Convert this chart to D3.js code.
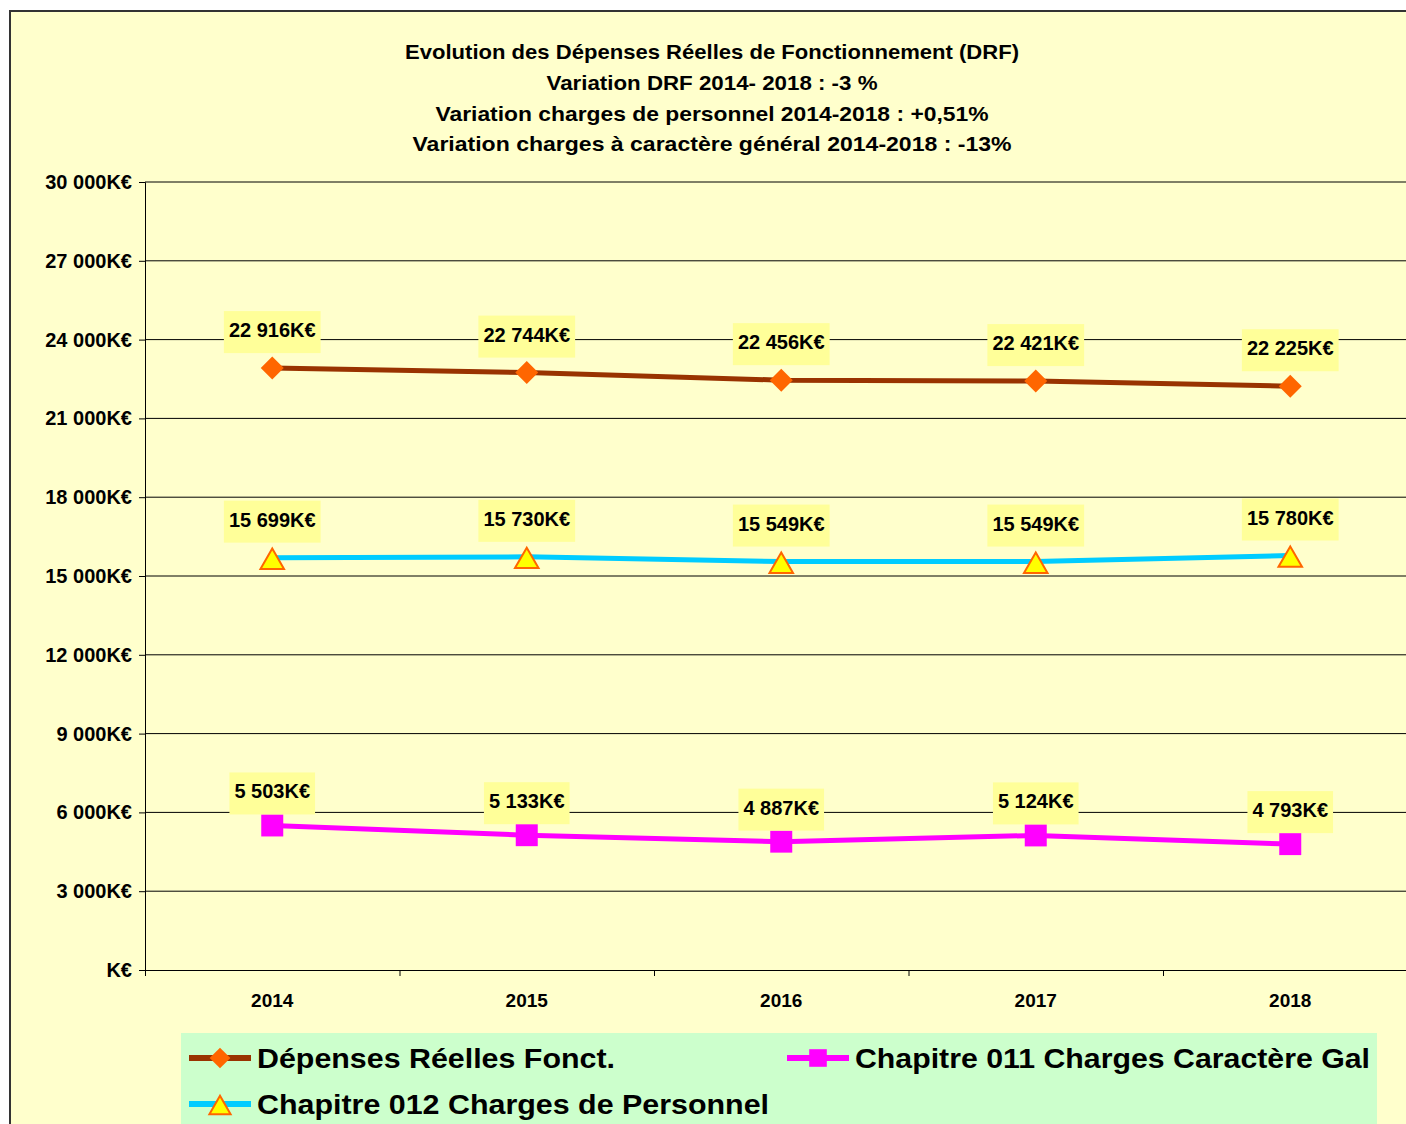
<!DOCTYPE html>
<html>
<head>
<meta charset="utf-8">
<script src="https://cdn.jsdelivr.net/npm/d3@7"></script>
<style>
  body { margin: 0; background: #fff; }
  text { font-family: "Liberation Sans", Arial, sans-serif; font-weight: bold; fill: #000; }
</style>
</head>
<body>
<svg id="chart" width="1406" height="1124"></svg>
<script>
// data
const years = ["2014", "2015", "2016", "2017", "2018"];
const drf = [22916, 22744, 22456, 22421, 22225];
const ch012 = [15699, 15730, 15549, 15549, 15780];
const ch011 = [5503, 5133, 4887, 5124, 4793];
const yTicks = [0, 3000, 6000, 9000, 12000, 15000, 18000, 21000, 24000, 27000, 30000];
const titleLines = [
  "Evolution des Dépenses Réelles de Fonctionnement (DRF)",
  "Variation DRF 2014- 2018 : -3 %",
  "Variation charges de personnel 2014-2018 : +0,51%",
  "Variation charges à caractère général 2014-2018 : -13%"
];
const titleWidths = [614, 331, 553, 599];

const svg = d3.select("#chart");
const loc = d3.formatLocale({ decimal: ",", thousands: " ", grouping: [3], currency: ["", ""] });
const num = loc.format(",d");
const kEur = d => (d === 0 ? "K€" : num(d) + "K€");

// outer frame
svg.append("rect")
  .attr("x", 10).attr("y", 11).attr("width", 1420).attr("height", 1130)
  .attr("fill", "#FFFFCC").attr("stroke", "#333").attr("stroke-width", 2);

// title
svg.selectAll("text.title").data(titleLines).enter().append("text")
  .attr("class", "title")
  .attr("x", 712).attr("y", (d, i) => 59 + i * 30.8)
  .attr("text-anchor", "middle")
  .attr("font-size", 21)
  .attr("textLength", (d, i) => titleWidths[i])
  .attr("lengthAdjust", "spacingAndGlyphs")
  .text(d => d);

// scales
const x = d3.scaleBand().domain(years).range([145, 1417.5]);
const cx = d => x(d) + x.bandwidth() / 2;
const y = d3.scaleLinear().domain([0, 30000]).range([970, 182]);

// gridlines
svg.append("g").selectAll("line").data(yTicks.slice(1)).enter().append("line")
  .attr("x1", 145).attr("x2", 1406)
  .attr("y1", d => y(d)).attr("y2", d => y(d))
  .attr("stroke", "#000").attr("stroke-width", 1);

// y axis
const yAxis = svg.append("g").attr("transform", "translate(145,0)")
  .call(d3.axisLeft(y).tickValues(yTicks).tickFormat(kEur).tickSize(6).tickPadding(7));
yAxis.selectAll("text").attr("font-size", 20).attr("font-family", null);
yAxis.selectAll("path, line").attr("stroke", "#000");

// x axis (ticks on category boundaries)
const xg = svg.append("g");
xg.append("line").attr("x1", 145).attr("x2", 1406).attr("y1", 970.5).attr("y2", 970.5).attr("stroke", "#000");
xg.selectAll("line.tk").data(years).enter().append("line")
  .attr("class", "tk")
  .attr("x1", d => x(d) + 0.5).attr("x2", d => x(d) + 0.5)
  .attr("y1", 970).attr("y2", 976).attr("stroke", "#000");
xg.selectAll("text").data(years).enter().append("text")
  .attr("x", cx).attr("y", 1007)
  .attr("text-anchor", "middle").attr("font-size", 19)
  .text(d => d);

// series
const series = [
  { name: "Dépenses Réelles Fonct.", values: drf, line: "#993300", symbol: "diamond", fill: "#FF6600", stroke: "none", off: 38 },
  { name: "Chapitre 012 Charges de Personnel", values: ch012, line: "#00CCFF", symbol: "triangle", fill: "#FFFF00", stroke: "#FF6600", off: 38 },
  { name: "Chapitre 011 Charges Caractère Gal", values: ch011, line: "#FF00FF", symbol: "square", fill: "#FF00FF", stroke: "none", off: 34 }
];

function marker(g, s, scale) {
  if (s.symbol === "diamond") {
    g.append("path").attr("d", d3.symbol(d3.symbolSquare, 265 * scale * scale))
      .attr("transform", "rotate(45)").attr("fill", s.fill);
  } else if (s.symbol === "triangle") {
    g.append("path").attr("d", d3.symbol(d3.symbolTriangle, 240 * scale * scale))
      .attr("transform", `translate(0,${4.5 * scale})`)
      .attr("fill", s.fill).attr("stroke", s.stroke).attr("stroke-width", 2);
  } else {
    g.append("path").attr("d", d3.symbol(d3.symbolSquare, 484 * scale * scale))
      .attr("fill", s.fill);
  }
}

const line = d3.line().x((d, i) => cx(years[i])).y(d => y(d));

series.forEach(s => {
  svg.append("path").datum(s.values)
    .attr("d", line)
    .attr("fill", "none").attr("stroke", s.line).attr("stroke-width", 5);

  s.values.forEach((v, i) => {
    const g = svg.append("g").attr("transform", `translate(${cx(years[i])},${y(v)})`);
    marker(g, s, 1);
  });

  // data labels
  s.values.forEach((v, i) => {
    const lg = svg.append("g").attr("transform", `translate(${cx(years[i])},${y(v) - s.off})`);
    const r = lg.append("rect").attr("fill", "#FFFF99");
    const t = lg.append("text").attr("text-anchor", "middle").attr("y", 7)
      .attr("font-size", 20).text(kEur(v));
    const w = t.node().getComputedTextLength();
    r.attr("x", -w / 2 - 5).attr("width", w + 10).attr("y", -19).attr("height", 42);
  });
});

// legend
svg.append("rect").attr("x", 181).attr("y", 1033).attr("width", 1196).attr("height", 100).attr("fill", "#CCFFCC");
const legendPos = [
  { x: 189, y: 1058, tw: 358 },
  { x: 189, y: 1104, tw: 512 },
  { x: 787, y: 1058, tw: 515 }
];
series.forEach((s, i) => {
  const p = legendPos[i];
  const g = svg.append("g").attr("transform", `translate(${p.x},${p.y})`);
  g.append("line").attr("x1", 0).attr("x2", 62).attr("stroke", s.line).attr("stroke-width", 6);
  const mg = g.append("g").attr("transform", "translate(31,0)");
  marker(mg, s, s.symbol === "square" ? 0.8 : 0.9);
  g.append("text").attr("x", 68).attr("y", 10)
    .attr("font-size", 28)
    .attr("textLength", p.tw).attr("lengthAdjust", "spacingAndGlyphs")
    .text(s.name);
});
</script>
</body>
</html>
